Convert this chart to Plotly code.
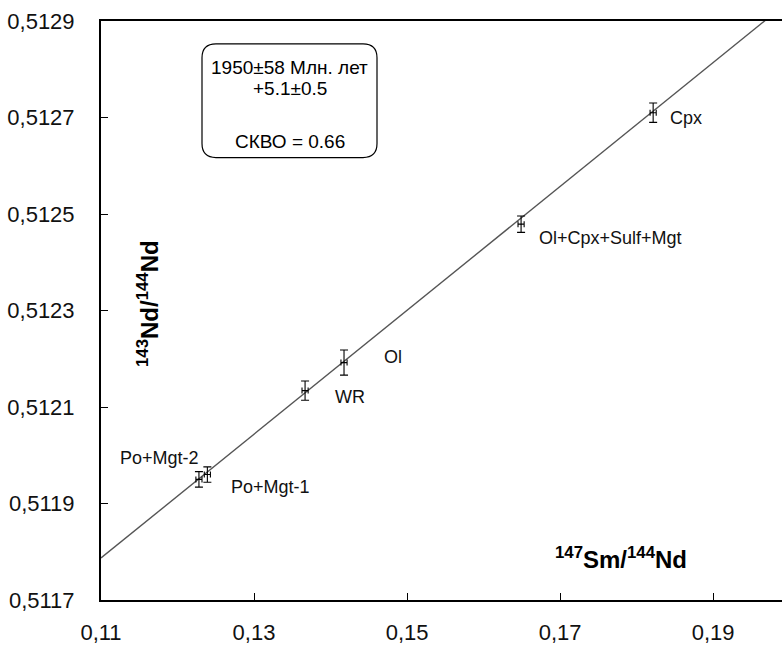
import numpy as np
import plotly.graph_objects as go

# ---- data ----
samples = ["Po+Mgt-2", "Po+Mgt-1", "WR", "Ol", "Ol+Cpx+Sulf+Mgt", "Cpx"]
sm_nd = [0.1228, 0.1239, 0.13667, 0.14176, 0.1649, 0.18216]
nd_nd = [0.51195, 0.51196, 0.512134, 0.512192, 0.512479, 0.51271]
err_x = [0.0004, 0.0004, 0.0004, 0.0004, 0.0004, 0.0004]
err_y = [0.000016, 0.000016, 0.00002, 0.000026, 0.000017, 0.00002]

# isochron parameters
age_ma = 1950
lam = 6.54e-12
intercept_at_011 = 0.511787
x_axis_range = [0.11, 0.199]
y_ticks = [0.5117, 0.5119, 0.5121, 0.5123, 0.5125, 0.5127, 0.5129]
x_ticks = [0.11, 0.13, 0.15, 0.17, 0.19]

box_lines = ["1950±58 Млн. лет", "+5.1±0.5", "СКВО = 0.66"]

# ---- derived isochron ----
slope = np.exp(lam * age_ma * 1e6) - 1
line_x = np.array([0.11, 0.20])
line_y = intercept_at_011 + slope * (line_x - 0.11)

FONT = "Arial, Liberation Sans, sans-serif"

fig = go.Figure()
fig.add_trace(go.Scatter(x=line_x, y=line_y, mode="lines",
                         line=dict(color="#555555", width=1.4),
                         hoverinfo="skip", showlegend=False))
fig.add_trace(go.Scatter(
    x=sm_nd, y=nd_nd, mode="markers",
    marker=dict(size=1, color="black"),
    error_x=dict(type="data", array=err_x, color="black", thickness=1.1, width=3),
    error_y=dict(type="data", array=err_y, color="black", thickness=1.1, width=4),
    showlegend=False))

# label offsets (pixels) per sample: xshift, yshift, xanchor
label_style = {
    "Po+Mgt-2": (2, 21, "right"),
    "Po+Mgt-1": (22, -12, "left"),
    "WR": (45, -6, "center"),
    "Ol": (38, 6, "left"),
    "Ol+Cpx+Sulf+Mgt": (16, -14, "left"),
    "Cpx": (15, -5, "left"),
}
for s, x, y in zip(samples, sm_nd, nd_nd):
    xs, ys, xa = label_style[s]
    fig.add_annotation(x=x, y=y, text=s, showarrow=False, xshift=xs, yshift=ys,
                       xanchor=xa, yanchor="middle",
                       font=dict(family=FONT, size=18, color="#111111"))

# rounded box
L, R, T, B = 202, 377, 44, 158
W, H, ML, MB = 681, 581, 101, 602
def px(v):
    return (v - ML) / W
def py(v):
    return (MB - v) / H
r = 14
path = (f"M {px(L + r)},{py(T)} L {px(R - r)},{py(T)} Q {px(R)},{py(T)} {px(R)},{py(T + r)} "
        f"L {px(R)},{py(B - r)} Q {px(R)},{py(B)} {px(R - r)},{py(B)} "
        f"L {px(L + r)},{py(B)} Q {px(L)},{py(B)} {px(L)},{py(B - r)} "
        f"L {px(L)},{py(T + r)} Q {px(L)},{py(T)} {px(L + r)},{py(T)} Z")
fig.add_shape(type="path", path=path, xref="paper", yref="paper",
              line=dict(color="black", width=1.2), fillcolor="white")
cx = (L + R) / 2
for txt, yy in zip(box_lines, [68, 89, 142]):
    fig.add_annotation(x=px(cx), y=py(yy), xref="paper", yref="paper", text=txt,
                       showarrow=False, xanchor="center", yanchor="middle",
                       font=dict(family=FONT, size=19, color="black"))

# axis titles
fig.add_annotation(x=px(148), y=py(305), xref="paper", yref="paper",
                   text="<b><sup>143</sup>Nd/<sup>144</sup>Nd</b>", textangle=-90,
                   showarrow=False, xanchor="center", yanchor="middle",
                   font=dict(family=FONT, size=24, color="black"))
fig.add_annotation(x=px(621), y=py(560), xref="paper", yref="paper",
                   text="<b><sup>147</sup>Sm/<sup>144</sup>Nd</b>",
                   showarrow=False, xanchor="center", yanchor="middle",
                   font=dict(family=FONT, size=24, color="black"))

fig.update_layout(
    width=782, height=645,
    margin=dict(l=101, r=0, t=21, b=43),
    paper_bgcolor="white", plot_bgcolor="white",
    separators=", ",
    font=dict(family=FONT, color="black"),
    xaxis=dict(range=x_axis_range, tickvals=x_ticks, tickformat=".2f",
               showgrid=False, zeroline=False, showline=True, linecolor="black",
               linewidth=2, mirror=True, ticks="inside", ticklen=7, tickcolor="black",
               tickfont=dict(family=FONT, size=22, color="#111111"),
               ticklabelstandoff=12),
    yaxis=dict(range=[0.5117, 0.5129], tickvals=y_ticks, tickformat=".4f",
               showgrid=False, zeroline=False, showline=True, linecolor="black",
               linewidth=2, ticks="inside", ticklen=7, tickcolor="black",
               tickfont=dict(family=FONT, size=22, color="#111111"),
               ticklabelstandoff=20),
)

fig.write_html("out.html")
